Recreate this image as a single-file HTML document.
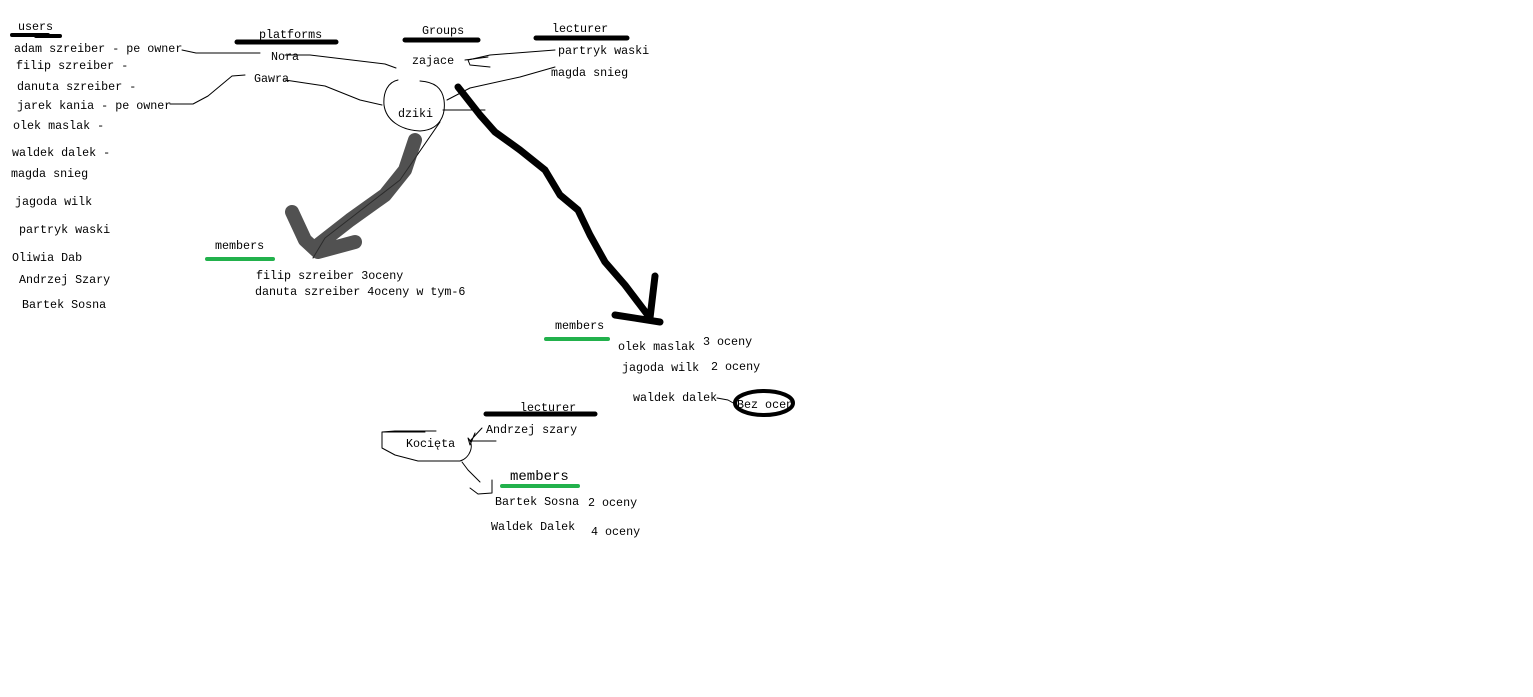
<!DOCTYPE html>
<html><head><meta charset="utf-8"><style>
html,body{margin:0;padding:0;background:#fff;width:1533px;height:697px;overflow:hidden}
svg text{font-family:"Liberation Mono",monospace;font-size:11.7px;fill:#000}
</style></head><body>
<svg width="1533" height="697" viewBox="0 0 1533 697" xmlns="http://www.w3.org/2000/svg">
<g fill="none" stroke="#000" stroke-linecap="round" stroke-linejoin="round">
<path d="M12 35 H48 M36 36 H60" stroke-width="4"/>
<path d="M237 42 H336" stroke-width="5"/>
<path d="M405 40 H478" stroke-width="5"/>
<path d="M536 38 H627" stroke-width="5"/>
<path d="M486 414 H595" stroke-width="5"/>
<path d="M207 259 H273" stroke="#22b14c" stroke-width="4"/>
<path d="M546 339 H608" stroke="#22b14c" stroke-width="4"/>
<path d="M502 486 H578" stroke="#22b14c" stroke-width="4"/>
<g stroke-width="1">
<path d="M182 50 L196 53 H260 M285 55 H310 L385 64 L396 68"/>
<path d="M245 75 L232 76 L208 96 L193 104 H170"/>
<path d="M285 80 L325 86 L360 100 L382 105"/>
<path d="M398 80 C388 82 383 92 384 105 C386 120 400 130 420 131 C440 130 446 115 444 100 C442 88 435 82 420 81"/>
<path d="M440 122 L400 180 L325 238 L313 258"/>
<path d="M443 110 H485"/>
<path d="M447 100 L470 88 L520 77 L555 67"/>
<path d="M555 50 L490 55 L468 60 L470 65 L490 67"/>
<path d="M465 60 L488 57"/>
<path d="M717 398 L728 400 L735 404"/>
<path d="M383 432 H425 M436 431 H395 L382 432 V448 L395 455 L418 461 H460 C470 458 475 445 468 438 L470 445 L475 433 M470 441 H496 M470 441 L482 428"/>
<path d="M462 462 L468 470 L476 478 L480 482 M470 488 L478 494 L492 493 V480"/>
</g>
<path d="M458 87 L480 115 L495 132 L520 150 L545 170 L560 195 L578 210 L590 235 L605 262 L625 285 L650 318 L655 276 M615 315 L660 322" stroke-width="7"/>
<path d="M415 140 L405 170 L385 195 L350 220 L318 245 M292 212 L305 240 L318 252 L355 242" stroke="#333" stroke-width="14" opacity="0.85"/>
<ellipse cx="764" cy="403" rx="29" ry="12" stroke-width="4"/>
</g>
<text x="18" y="30">users</text>
<text x="259" y="38">platforms</text>
<text x="422" y="34">Groups</text>
<text x="552" y="32">lecturer</text>
<text x="14" y="52">adam szreiber - pe owner</text>
<text x="16" y="69">filip szreiber -</text>
<text x="17" y="90">danuta szreiber -</text>
<text x="17" y="109">jarek kania - pe owner</text>
<text x="13" y="129">olek maslak -</text>
<text x="12" y="156">waldek dalek -</text>
<text x="11" y="177">magda snieg</text>
<text x="15" y="205">jagoda wilk</text>
<text x="19" y="233">partryk waski</text>
<text x="12" y="261">Oliwia Dab</text>
<text x="19" y="283">Andrzej Szary</text>
<text x="22" y="308">Bartek Sosna</text>
<text x="271" y="60">Nora</text>
<text x="254" y="82">Gawra</text>
<text x="412" y="64">zajace</text>
<text x="398" y="117">dziki</text>
<text x="558" y="54">partryk  waski</text>
<text x="551" y="76">magda snieg</text>
<text x="215" y="249">members</text>
<text x="256" y="279">filip szreiber  3oceny</text>
<text x="255" y="295">danuta szreiber 4oceny w tym-6</text>
<text x="555" y="329">members</text>
<text x="618" y="350">olek maslak</text>
<text x="703" y="345">3 oceny</text>
<text x="622" y="371">jagoda wilk</text>
<text x="711" y="370">2 oceny</text>
<text x="633" y="401">waldek dalek</text>
<text x="737" y="408">Bez ocen</text>
<text x="520" y="411">lecturer</text>
<text x="486" y="433">Andrzej szary</text>
<text x="406" y="447">Kocięta</text>
<text x="510" y="480" style="font-size:14px">members</text>
<text x="495" y="505">Bartek Sosna</text>
<text x="588" y="506">2 oceny</text>
<text x="491" y="530">Waldek Dalek</text>
<text x="591" y="535">4 oceny</text>
</svg>
</body></html>
